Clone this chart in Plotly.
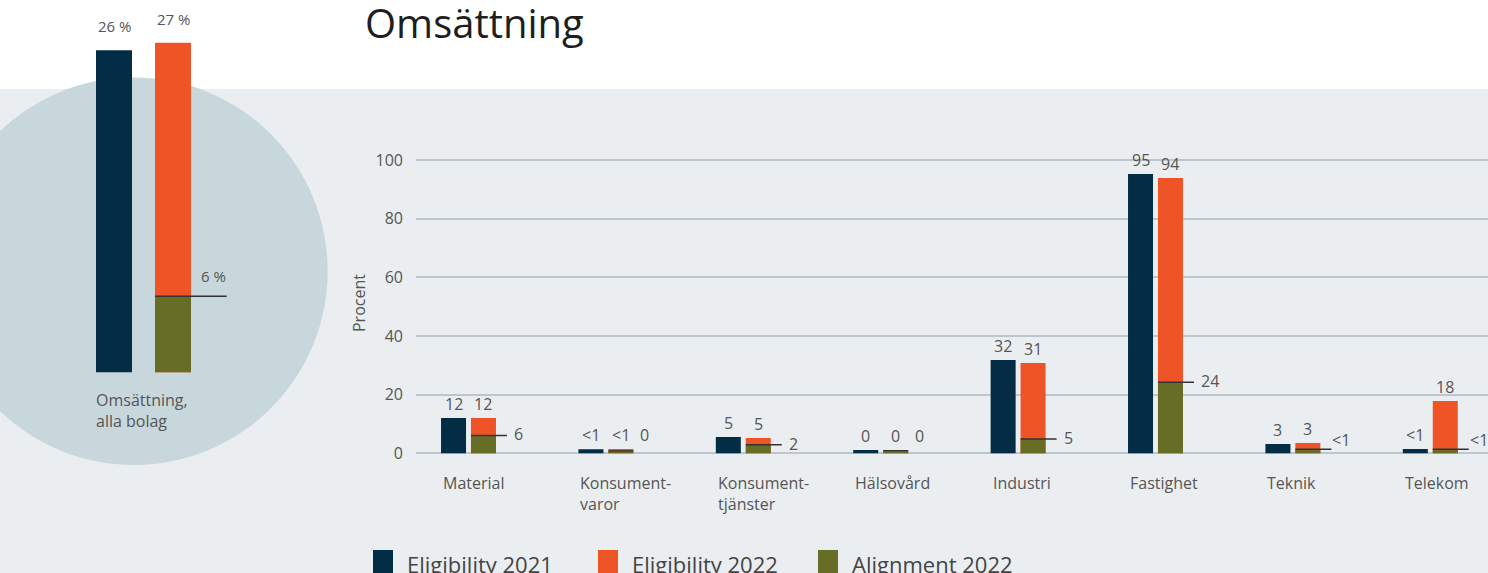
import plotly.graph_objects as go

# ---------------- data ----------------
categories = ["Material", "Konsument-<br>varor", "Konsument-<br>tjänster", "Hälsovård",
              "Industri", "Fastighet", "Teknik", "Telekom"]
elig_2021 = [12.0, 1.4, 5.6, 1.1, 31.8, 95.2, 3.2, 1.5]
elig_2022 = [12.0, 1.5, 5.2, 1.1, 30.8, 93.9, 3.5, 17.8]
align_2022 = [6.1, 0.8, 2.9, 0.9, 4.9, 24.2, 1.4, 1.4]
lab_elig_2021 = ["12", "<1", "5", "0", "32", "95", "3", "<1"]
lab_elig_2022 = ["12", "<1", "5", "0", "31", "94", "3", "18"]
lab_align_2022 = ["6", "0", "2", "0", "5", "24", "<1", "<1"]
y_ticks = [0, 20, 40, 60, 80, 100]

total_category = "Omsättning,<br>alla bolag"
total_elig_2021 = 26.2
total_elig_2022 = 26.8
total_align_2022 = 6.2
total_labels = ["26 %", "27 %", "6 %"]

series_names = ["Eligibility 2021", "Eligibility 2022", "Alignment 2022"]
title_text = "Omsättning"
y_title = "Procent"

# ---------------- style ----------------
W, H = 1488, 573
NAVY = "#032D45"
ORANGE = "#EE5425"
OLIVE = "#676D25"
colors = [NAVY, ORANGE, OLIVE]
TXT = "#555555"
FONT = "Open Sans"
GRID = "#BCC6CF"


def px(x):
    return x / W


def py(y):
    return 1 - y / H


BW = 0.182          # bar width (category units)
OFF_A = -0.200      # navy bar offset
OFF_B = 0.018       # orange / olive bar offset
PXU = 137.4         # pixels per category unit

idx = list(range(len(categories)))

fig = go.Figure()
fig.add_trace(go.Bar(x=idx, y=elig_2021, offset=OFF_A, width=BW, marker_color=NAVY,
                     marker_line_width=0, name=series_names[0], xaxis="x", yaxis="y"))
fig.add_trace(go.Bar(x=idx, y=elig_2022, offset=OFF_B, width=BW, marker_color=ORANGE,
                     marker_line_width=0, name=series_names[1], xaxis="x", yaxis="y"))
fig.add_trace(go.Bar(x=idx, y=align_2022, offset=OFF_B, width=BW, marker_color=OLIVE,
                     marker_line_width=0, name=series_names[2], xaxis="x", yaxis="y"))

# left summary chart
fig.add_trace(go.Bar(x=[0], y=[total_elig_2021], offset=-0.3, width=0.2, marker_color=NAVY,
                     marker_line_width=0, xaxis="x2", yaxis="y2"))
fig.add_trace(go.Bar(x=[0], y=[total_elig_2022], offset=0.0278, width=0.2, marker_color=ORANGE,
                     marker_line_width=0, xaxis="x2", yaxis="y2"))
fig.add_trace(go.Bar(x=[0], y=[total_align_2022], offset=0.0278, width=0.2, marker_color=OLIVE,
                     marker_line_width=0, xaxis="x2", yaxis="y2"))

shapes = []
# grey band
shapes.append(dict(type="rect", xref="paper", yref="paper", x0=0, x1=1, y0=0, y1=py(89),
                   fillcolor="#EBEEF1", line_width=0, layer="below"))
# circle
cx, cy, r = 133.9, 271.2, 193.8
shapes.append(dict(type="circle", xref="paper", yref="paper", x0=px(cx - r), x1=px(cx + r),
                   y0=py(cy + r), y1=py(cy - r), fillcolor="#C8D7DC", line_width=0, layer="below"))

annotations = []
lab_font = dict(family=FONT, size=16, color=TXT)

for i in idx:
    annotations.append(dict(x=i + OFF_A + BW / 2, y=elig_2021[i], xref="x", yref="y",
                            text=lab_elig_2021[i], showarrow=False, yanchor="bottom",
                            yshift=1, font=lab_font))
    annotations.append(dict(x=i + OFF_B + BW / 2, y=elig_2022[i], xref="x", yref="y",
                            text=lab_elig_2022[i], showarrow=False, yanchor="bottom",
                            yshift=1, font=lab_font))
    if lab_align_2022[i] == "0":
        annotations.append(dict(x=i + OFF_B + BW + 11 / PXU, y=elig_2022[i], xref="x", yref="y",
                                text=lab_align_2022[i], showarrow=False, yanchor="bottom",
                                yshift=1, font=lab_font))
        shapes.append(dict(type="line", xref="x", yref="y", x0=i + OFF_B, x1=i + OFF_B + BW,
                           y0=align_2022[i], y1=align_2022[i], line=dict(color="#333333", width=1.2)))
    else:
        x1 = i + OFF_B + BW + 11 / PXU
        small = align_2022[i] < 1.5
        shapes.append(dict(type="line", xref="x", yref="y", x0=i + OFF_B, x1=x1,
                           y0=align_2022[i], y1=align_2022[i], line=dict(color="#333333", width=1.5)))
        annotations.append(dict(x=x1, y=align_2022[i], xref="x", yref="y",
                                text=lab_align_2022[i], showarrow=False, xanchor="left",
                                yanchor="middle", xshift=-1 if small else 5,
                                yshift=9 if small else 1, font=lab_font))
    # category label, left aligned at navy bar edge
    annotations.append(dict(x=i + OFF_A, y=py(470), xref="x", yref="paper",
                            text=categories[i], showarrow=False, xanchor="left",
                            yanchor="top", align="left", font=lab_font))

# left chart labels and line
shapes.append(dict(type="line", xref="x2", yref="y2", x0=0.0278, x1=0.426,
                   y0=total_align_2022, y1=total_align_2022, line=dict(color="#333333", width=1.5)))
small_font = dict(family=FONT, size=15, color=TXT)
annotations.append(dict(x=-0.2, y=total_elig_2021, xref="x2", yref="y2", text=total_labels[0],
                        showarrow=False, yanchor="bottom", yshift=12, font=small_font))
annotations.append(dict(x=0.1278, y=total_elig_2022, xref="x2", yref="y2", text=total_labels[1],
                        showarrow=False, yanchor="bottom", yshift=12, font=small_font))
annotations.append(dict(x=0.354, y=total_align_2022, xref="x2", yref="y2", text=total_labels[2],
                        showarrow=False, yanchor="bottom", yshift=8, font=small_font))
annotations.append(dict(x=px(94), y=py(387), xref="paper", yref="paper", text=total_category,
                        showarrow=False, xanchor="left", yanchor="top", align="left",
                        font=dict(family=FONT, size=16, color=TXT)))

# title
annotations.append(dict(x=px(363), y=py(23), xref="paper", yref="paper", text=title_text,
                        showarrow=False, xanchor="left", yanchor="middle",
                        font=dict(family=FONT, size=40, color="#1E1E1E")))
# y axis title
annotations.append(dict(x=px(359), y=py(303), xref="paper", yref="paper", text=y_title,
                        showarrow=False, textangle=-90, xanchor="center", yanchor="middle",
                        font=dict(family=FONT, size=16, color=TXT)))

# legend (manual)
leg_sq = [373, 598, 818]
for k in range(3):
    shapes.append(dict(type="rect", xref="paper", yref="paper", x0=px(leg_sq[k]), x1=px(leg_sq[k] + 20),
                       y0=0, y1=py(550), fillcolor=colors[k], line_width=0))
    annotations.append(dict(x=px(leg_sq[k] + 32), y=py(564), xref="paper", yref="paper",
                            text=series_names[k], showarrow=False, xanchor="left", yanchor="middle",
                            font=dict(family=FONT, size=22, color="#444444")))

y0_px, ppu = 453.3, 2.933
yr = [-0.5, 105]
fig.update_layout(
    width=W, height=H, autosize=False,
    margin=dict(l=0, r=0, t=0, b=0, pad=0),
    paper_bgcolor="white", plot_bgcolor="rgba(0,0,0,0)",
    barmode="overlay", showlegend=False,
    shapes=shapes, annotations=annotations,
    font=dict(family=FONT, color=TXT),
    xaxis=dict(domain=[px(416), 1], range=[-52.5 / PXU, (W - 468.5) / PXU],
               showgrid=False, zeroline=False, showticklabels=False, showline=False, fixedrange=True),
    yaxis=dict(domain=[py(y0_px - yr[0] * ppu), py(y0_px - yr[1] * ppu)], range=yr,
               tickvals=y_ticks, ticktext=[str(t) for t in y_ticks],
               showgrid=True, gridcolor=GRID, gridwidth=2,
               zeroline=True, zerolinecolor=GRID, zerolinewidth=2,
               showline=False, ticks="", ticklabelstandoff=12, automargin=False,
               tickfont=dict(family=FONT, size=16, color=TXT)),
    xaxis2=dict(domain=[px(60), px(240)], range=[-0.5, 0.5], visible=False, anchor="y2"),
    yaxis2=dict(domain=[py(372.5), py(3.5)], range=[0, 30], visible=False, anchor="x2"),
)

fig.write_html("out.html")
